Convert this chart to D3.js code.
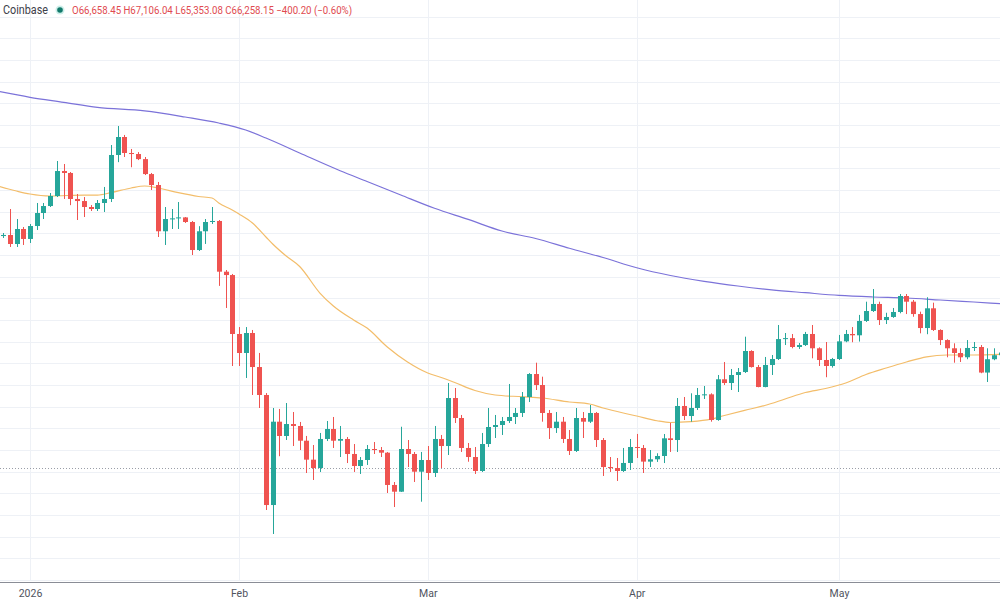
<!DOCTYPE html>
<html>
<head>
<meta charset="utf-8">
<script src="https://cdn.jsdelivr.net/npm/d3@7"></script>
<style>
  html, body { margin: 0; padding: 0; background: #fff; }
  svg { display: block; font-family: Roboto, "Noto Sans", sans-serif; }
</style>
</head>
<body>
<svg id="chart" width="1000" height="600"></svg>
<script>
// daily candles, Dec 28 2025 .. May 25 2026 (Coinbase BTC)
var firstDay = "2025-12-28";
var lastDay = "2026-05-25";

var opens = [
  87750, 87845, 87015, 88400,
  87480, 88675, 89875, 90520, 91445, 93750, 93570, 91170, 90980, 90430, 90245, 90800, 91170, 95230, 96890, 95415,
  95320, 94850, 93470, 92460, 88190, 89320, 89380, 89470, 89045, 86460, 88190, 89045, 89140, 84460, 84150,
  78710, 76955, 78800, 75660, 73080, 62925, 70615, 69295, 70400, 70220, 68860, 67110, 66340, 69020, 69940,
  68860, 69020, 67635, 66525, 67080, 68095, 68000, 67755, 64775, 64155, 68095, 67635, 66000,
  67080, 65880, 69020, 68370, 72800, 70955, 68190, 67355, 66065, 68555, 70125, 70310, 70680, 71050, 71420,
  72895, 75015, 74000, 71420, 70035, 70615, 69020, 67910, 70955, 70615, 71420, 68925, 66430, 66340, 66065, 66805,
  68280, 68190, 66930, 67145, 67450, 69080, 68925, 72065, 71140, 71880, 73080, 73140, 70770, 74530, 74185,
  74925, 75200, 77140, 75660, 73815, 75850, 76400, 78240, 78330, 77510, 77690, 78710, 77390, 76310, 75755,
  76400, 78030, 78710, 78590, 79910, 80830, 81480, 80000, 80280, 80740, 82215, 81690, 80550, 79260, 81080,
  79080, 78150, 77390, 76955, 76560, 77420, 77510, 75150, 76380, 76750
];
var highs = [
  88030, 90245, 89320, 88585,
  88860, 90800, 90800, 91720, 94675, 94400, 93660, 91630, 91350, 90610, 91075, 92280, 96150, 97905, 97080, 95785,
  95500, 95045, 93570, 92740, 90430, 90245, 90890, 89505, 89140, 88660, 89320, 90430, 89230, 84615, 84250,
  79350, 79350, 79080, 76960, 73260, 71880, 71790, 72340, 71510, 70590, 69300, 68465, 69575, 70680, 71050,
  70220, 69200, 68555, 67355, 68465, 68740, 68280, 67820, 65050, 70150, 68925, 67820, 67820,
  68370, 70220, 69390, 74185, 73725, 71235, 68650, 68280, 69575, 71880, 71235, 71050, 74095, 71880, 73355,
  75100, 76060, 74770, 71695, 71510, 71050, 69850, 71880, 71510, 72155, 71510, 69110, 67355, 67265, 68190, 69020,
  69485, 68465, 68000, 67700, 69480, 70500, 72800, 72895, 73235, 73725, 73910, 73235, 74925, 76125, 75480,
  75570, 78460, 77210, 75850, 76590, 76770, 79540, 78800, 78710, 77880, 78900, 79540, 77480, 77970, 76500,
  78620, 79080, 79350, 80470, 81690, 82860, 81690, 80670, 81110, 82400, 82400, 81850, 80770, 82100, 81600,
  79140, 78220, 77850, 77390, 78150, 77970, 77690, 77390, 77390, 77210
];
var lows = [
  87570, 86740, 86740, 86925,
  87110, 88310, 89320, 90430, 91350, 91170, 90600, 89230, 89505, 90060, 90060, 89970, 90890, 94570, 95045, 94100,
  94760, 93380, 92000, 87660, 86925, 88400, 88400, 88955, 86000, 86370, 87020, 88860, 83150, 81110, 75755,
  75755, 74650, 73080, 71880, 62465, 60250, 67430, 68925, 68370, 68000, 65880, 65235, 65970, 68830, 68190,
  67355, 66800, 65975, 65790, 66620, 67635, 67355, 64035, 62740, 64130, 66430, 65050, 63230,
  65235, 65510, 66340, 67540, 70495, 67820, 66920, 65790, 65975, 68280, 69110, 69390, 70495, 70400, 71050,
  72430, 73540, 70615, 69020, 69575, 68650, 67540, 67820, 69110, 70495, 68280, 65605, 65975, 65145, 65975, 66160,
  67265, 65880, 66430, 66900, 66800, 67820, 67820, 70770, 70615, 71695, 72710, 70615, 70700, 74000, 73540,
  73355, 75110, 75610, 73790, 73790, 74925, 76310, 77690, 77390, 77330, 77600, 76465, 75755, 74720, 75610,
  76310, 77950, 77950, 78010, 79820, 80740, 79540, 79630, 80200, 80620, 80550, 80300, 78770, 78690, 78990,
  77690, 76560, 76060, 76125, 76380, 77140, 75090, 74280, 76290, 76700
];
var closes = [
  87850, 87015, 88400, 87480,
  88675, 89875, 90520, 91445, 93750, 93570, 91170, 90980, 90430, 90245, 90800, 91170, 95230, 96890, 95415, 95320,
  94850, 93470, 92460, 88190, 89320, 89380, 89470, 89045, 86460, 88190, 89045, 89140, 84460, 84150, 78710,
  76955, 78800, 75660, 73080, 62925, 70615, 69295, 70400, 70220, 68860, 67110, 66340, 69020, 69940, 68860,
  69020, 67635, 66525, 67080, 68095, 68000, 67755, 64775, 64155, 68095, 67635, 66000, 67080,
  65880, 69020, 68370, 72800, 70955, 68190, 67355, 66065, 68555, 70125, 70310, 70680, 71050, 71420, 72895,
  75015, 74000, 71420, 70035, 70615, 69020, 67910, 70955, 70615, 71420, 68925, 66430, 66340, 66065, 66805, 68280,
  68190, 66930, 67145, 67450, 69080, 68925, 72065, 71140, 71880, 73080, 73140, 70770, 74530, 74185, 74925,
  75200, 77140, 75660, 73815, 75850, 76400, 78240, 78330, 77510, 77690, 78710, 77390, 76310, 75755, 76400,
  78030, 78710, 78590, 79910, 80830, 81480, 80000, 80280, 80740, 82215, 81690, 80550, 79260, 81080, 79080,
  78150, 77390, 76955, 76560, 77420, 77510, 75150, 76380, 76750, 77000
];

// moving averages
var maFastDates = ["2025-12-27","2025-12-30","2026-01-01","2026-01-04","2026-01-09","2026-01-11","2026-01-13","2026-01-16",
  "2026-01-18","2026-01-20","2026-01-23","2026-01-26","2026-01-28","2026-01-29","2026-01-31","2026-02-01","2026-02-03",
  "2026-02-05","2026-02-06","2026-02-08","2026-02-10","2026-02-13","2026-02-15","2026-02-18","2026-02-20","2026-02-23",
  "2026-02-26","2026-03-01","2026-03-03","2026-03-05","2026-03-08","2026-03-11","2026-03-15","2026-03-18","2026-03-22",
  "2026-03-25","2026-03-27","2026-03-30","2026-04-01","2026-04-04","2026-04-06","2026-04-09","2026-04-12","2026-04-14",
  "2026-04-17","2026-04-20","2026-04-23","2026-04-26","2026-04-29","2026-05-02","2026-05-05","2026-05-08","2026-05-11",
  "2026-05-14","2026-05-17","2026-05-21","2026-05-26"];
var maFast = [92415, 91905, 91630, 91445, 91535, 91535, 91750, 92185,
  92370, 92185, 91750, 91400, 91260, 90800, 90150, 89785, 88950,
  87660, 87015, 85905, 84940, 82490, 81290, 80000, 79260, 77510,
  76125, 75110, 74695, 74230, 73495, 73080, 72920, 72800, 72435,
  72250, 71880, 71415, 71140, 70705, 70540, 70615, 70845, 71185,
  71665, 72110, 72710, 73310, 73680, 74190, 74970, 75570, 76125,
  76605, 76770, 76770, 76860];

var maSlowDates = ["2025-12-27","2026-01-01","2026-01-06","2026-01-11","2026-01-18","2026-01-24","2026-01-29","2026-02-02",
  "2026-02-05","2026-02-10","2026-02-16","2026-02-20","2026-02-25","2026-03-02","2026-03-07","2026-03-12","2026-03-17",
  "2026-03-22","2026-03-27","2026-04-01","2026-04-06","2026-04-11","2026-04-16","2026-04-21","2026-04-26","2026-05-01",
  "2026-05-06","2026-05-11","2026-05-16","2026-05-21","2026-05-26"];
var maSlow = [101135, 100555, 100090, 99620, 99300, 98735, 98180, 97535,
  96795, 95415, 93780, 92785, 91535, 90310, 89285, 88215, 87520,
  86625, 85770, 84820, 84105, 83570, 83140, 82785, 82520, 82270,
  82125, 82030, 81845, 81660, 81475];

var monthTicks = ["2026-01-01", "2026-02-01", "2026-03-01", "2026-04-01", "2026-05-01"];
var monthLabels = ["2026", "Feb", "Mar", "Apr", "May"];

var lastPrice = 66258.15;
var legendSource = "Coinbase";
var legendOHLC = "O66,658.45 H67,106.04 L65,353.08 C66,258.15 \u2212400.20 (\u22120.60%)";

var upColor = "#26a69a", downColor = "#ef5350";

var parse = d3.utcParse("%Y-%m-%d");
var days = d3.utcDay.range(parse(firstDay), d3.utcDay.offset(parse(lastDay), 1));
var candles = days.map(function(d, i){
    return {date: d, o: opens[i], h: highs[i], l: lows[i], c: closes[i]};
});

var svg = d3.select("#chart"),
    width = +svg.attr("width"),
    height = +svg.attr("height");

var plotBottom = 581;

var x = d3.scaleUtc()
    .domain([parse("2026-01-01"), parse("2026-05-01")])
    .range([30, 839]);
var y = d3.scaleLinear()
    .domain([56000, 110000])
    .range([580.05, -5.04]);

svg.append("defs").append("clipPath").attr("id", "plot-clip")
  .append("rect").attr("x", 0).attr("y", 0).attr("width", width).attr("height", plotBottom);

// grid
var grid = svg.append("g").attr("class", "grid");
grid.selectAll("line.h")
    .data(d3.range(56000, 110001, 2000))
  .enter().append("line")
    .attr("class", "h")
    .attr("x1", 0).attr("x2", width)
    .attr("y1", function(d){ return Math.round(y(d)) + 0.5; })
    .attr("y2", function(d){ return Math.round(y(d)) + 0.5; })
    .attr("stroke", "#eef1f6");
grid.selectAll("line.v")
    .data(monthTicks.map(parse))
  .enter().append("line")
    .attr("class", "v")
    .attr("y1", 0).attr("y2", plotBottom)
    .attr("x1", function(d){ return Math.round(x(d)) + 0.5; })
    .attr("x2", function(d){ return Math.round(x(d)) + 0.5; })
    .attr("stroke", "#eef1f6");

var plot = svg.append("g").attr("clip-path", "url(#plot-clip)");

// last price line
plot.append("line")
    .attr("x1", 0).attr("x2", width)
    .attr("y1", Math.round(y(lastPrice)) - 0.5)
    .attr("y2", Math.round(y(lastPrice)) - 0.5)
    .attr("stroke", "#9a9ea8")
    .attr("stroke-dasharray", "1,2");

// moving averages
var line = d3.line()
    .x(function(d){ return x(d[0]); })
    .y(function(d){ return y(d[1]); })
    .curve(d3.curveMonotoneX);

plot.append("path")
    .datum(maSlowDates.map(function(d, i){ return [parse(d), maSlow[i]]; }))
    .attr("d", line)
    .attr("fill", "none")
    .attr("stroke", "#7b72d9")
    .attr("stroke-width", 1.2);

plot.append("path")
    .datum(maFastDates.map(function(d, i){ return [parse(d), maFast[i]]; }))
    .attr("d", line)
    .attr("fill", "none")
    .attr("stroke", "#f3bd6a")
    .attr("stroke-width", 1.2);

// candles
var bodyW = 5;
var candle = plot.selectAll("g.candle")
    .data(candles)
  .enter().append("g")
    .attr("class", "candle")
    .attr("transform", function(d){ return "translate(" + Math.round(x(d.date)) + ",0)"; });

candle.append("line")
    .attr("x1", 0.5).attr("x2", 0.5)
    .attr("y1", function(d){ return y(d.h); })
    .attr("y2", function(d){ return y(d.l); })
    .attr("stroke", function(d){ return d.c >= d.o ? upColor : downColor; });

candle.append("rect")
    .attr("x", -2)
    .attr("width", bodyW)
    .attr("y", function(d){ return y(Math.max(d.o, d.c)); })
    .attr("height", function(d){ return Math.max(1, Math.abs(y(d.o) - y(d.c))); })
    .attr("fill", function(d){ return d.c >= d.o ? upColor : downColor; });

// x axis
var xAxis = d3.axisBottom(x)
    .tickValues(monthTicks.map(parse))
    .tickSize(0)
    .tickPadding(8)
    .tickFormat(function(d, i){ return monthLabels[i]; });

var axisG = svg.append("g")
    .attr("transform", "translate(0," + (plotBottom + 1) + ")")
    .call(xAxis);
axisG.select(".domain").remove();
axisG.append("line")
    .attr("x1", 0).attr("x2", width)
    .attr("y1", 0.5).attr("y2", 0.5)
    .attr("stroke", "#8a8d96");
axisG.selectAll("text")
    .attr("font-size", 10.5)
    .attr("font-family", "Roboto, sans-serif")
    .attr("fill", "#50535e");

// legend
var legend = svg.append("g");
legend.append("text")
    .attr("x", 3).attr("y", 14)
    .attr("font-size", 12)
    .attr("textLength", 45)
    .attr("lengthAdjust", "spacingAndGlyphs")
    .attr("fill", "#3d4049")
    .text(legendSource);
legend.append("circle")
    .attr("cx", 60).attr("cy", 10).attr("r", 4.5)
    .attr("fill", "#cdeee9");
legend.append("circle")
    .attr("cx", 60).attr("cy", 10).attr("r", 2.8)
    .attr("fill", "#127a6b");
legend.append("text")
    .attr("x", 72).attr("y", 14)
    .attr("font-size", 10.5)
    .attr("textLength", 280)
    .attr("lengthAdjust", "spacingAndGlyphs")
    .attr("fill", "#e04a4f")
    .text(legendOHLC);
</script>
</body>
</html>
